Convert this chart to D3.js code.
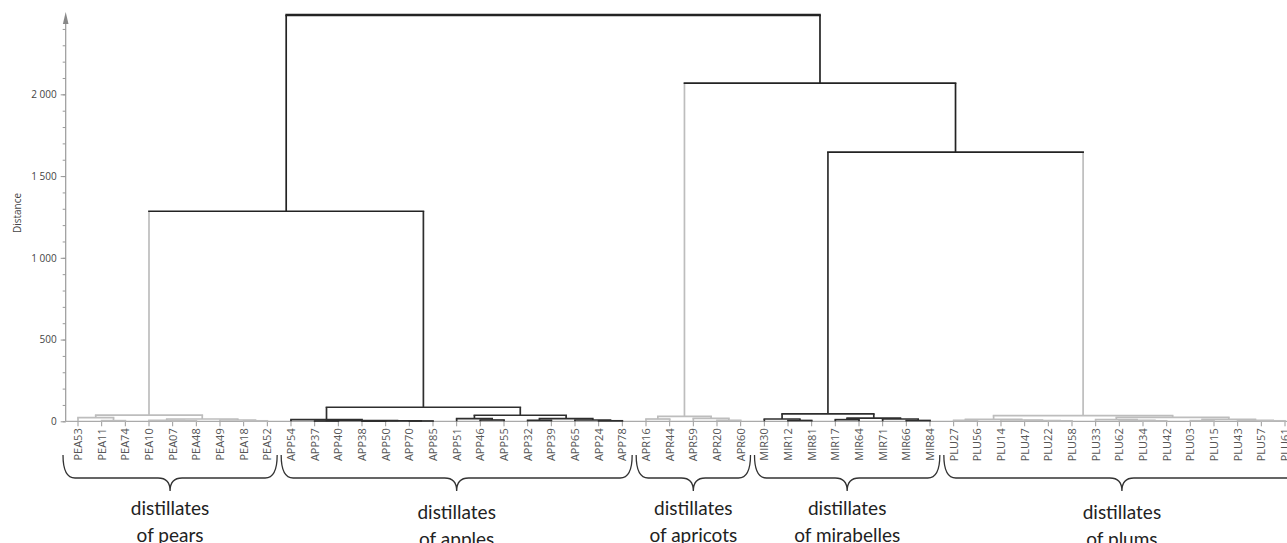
<!DOCTYPE html>
<html lang="en">
<head>
    <meta charset="UTF-8">
    <title>Dendrogram of fruit distillates</title>
    <script src="https://d3js.org/d3.v7.min.js"></script>
    <style>
        body {
            margin: 0;
            background: #fff;
        }
        svg {
            display: block;
        }
        .tick text {
            font-family: "Open Sans", sans-serif;
            font-size: 10px;
            fill: #444;
        }
    </style>
</head>
<body>
    <div id="chart"></div>

    <script>
        // Sub-trees: [left, right, distance] ; strings are leaves
        const pearTree = [["PEA53", ["PEA11", "PEA74", 4], 22],
                          [["PEA10", ["PEA07", "PEA48", 3], 6], ["PEA49", ["PEA18", "PEA52", 3], 8], 14], 38];
        const appleTree = [["APP54", [["APP37", "APP40", 2], [["APP38", "APP50", 1], ["APP70", "APP85", 2], 3], 5], 10],
                           [["APP51", ["APP46", "APP55", 8], 16], [["APP32", "APP39", 6], ["APP65", ["APP24", "APP78", 3], 8], 16], 37], 86];
        const apricotTree = [["APR16", "APR44", 14], ["APR59", ["APR20", "APR60", 6], 18], 30];
        const mirabelleTree = [["MIR30", ["MIR12", "MIR81", 5], 14],
                               [["MIR17", "MIR64", 10], ["MIR71", ["MIR66", "MIR84", 5], 14], 20], 45];
        const plumTree = [[["PLU27", "PLU56", 6], ["PLU14", ["PLU47", ["PLU22", "PLU58", 3], 5], 8], 12],
                          [["PLU33", ["PLU62", ["PLU34", "PLU42", 3], 6], 10], [["PLU03", "PLU15", 4], ["PLU43", ["PLU57", "PLU61", 3], 6], 12], 24], 35];

        // upper merges
        const fullTree = [[pearTree, appleTree, 1285], [apricotTree, [mirabelleTree, plumTree, 1646], 2068], 2485];

        const groupTrees = [pearTree, appleTree, apricotTree, mirabelleTree, plumTree];
        const groupLines1 = ["distillates", "distillates", "distillates", "distillates", "distillates"];
        const groupLines2 = ["of pears", "of apples", "of apricots", "of mirabelles", "of plums"];
        const groupColors = ["#bdbdbd", "#2e2e2e", "#bdbdbd", "#2e2e2e", "#bdbdbd"];

        const yTicks = [0, 500, 1000, 1500, 2000];
        const yMinorTicks = d3.range(0, 2500, 100);

        const width = 1287, height = 543;
        const baseY = 421.3;

        const svg = d3.select("#chart").append("svg")
            .attr("width", width)
            .attr("height", height);

        const root = d3.hierarchy(fullTree, d => Array.isArray(d) ? [d[0], d[1]] : null);
        const leaves = root.leaves();
        const leafNames = leaves.map(d => d.data);

        const x = d3.scalePoint().domain(leafNames).range([78, 1285]);
        const y = d3.scaleLinear().domain([0, 2500]).range([baseY, 12.6]);

        // positions and colours
        root.eachAfter(d => {
            d.h = d.children ? d.data[2] : 0;
            d.px = d.children ? d3.mean(d.children, c => c.px) : x(d.data);
        });
        root.each(d => { d.color = "#232323"; });
        groupTrees.forEach((t, i) => {
            root.each(d => {
                if (d.data === t) d.each(n => { n.color = groupColors[i]; });
            });
        });

        // axis
        const fmt = d3.formatLocale({ decimal: ".", thousands: "\u00a0", grouping: [3], currency: ["", ""] }).format(",d");
        const axisX = 65.7;

        svg.append("g")
            .attr("transform", `translate(${axisX},0)`)
            .call(d3.axisLeft(y).tickValues(yMinorTicks).tickSize(3).tickFormat(""))
            .call(g => g.select(".domain").remove())
            .call(g => g.selectAll("line").attr("stroke", "#999"));

        svg.append("g")
            .attr("transform", `translate(${axisX},0)`)
            .call(d3.axisLeft(y).tickValues(yTicks).tickSize(5).tickPadding(4).tickFormat(fmt))
            .call(g => g.select(".domain").remove())
            .call(g => g.selectAll("line").attr("stroke", "#999"));

        svg.append("line")
            .attr("x1", axisX).attr("x2", axisX)
            .attr("y1", baseY).attr("y2", 18)
            .attr("stroke", "#999").attr("stroke-width", 1.2);
        svg.append("path")
            .attr("d", `M${axisX},12 L${axisX - 2.8},24 L${axisX + 2.8},24 Z`)
            .attr("fill", "#888");

        svg.append("text")
            .attr("transform", "translate(21,213) rotate(-90)")
            .attr("text-anchor", "middle")
            .attr("font-family", "Open Sans, sans-serif")
            .attr("font-size", 10)
            .attr("fill", "#444")
            .text("Distance");

        // leaf baseline + ticks
        svg.append("line")
            .attr("x1", axisX).attr("x2", width)
            .attr("y1", baseY).attr("y2", baseY)
            .attr("stroke", "#aaa").attr("stroke-width", 1.2);

        svg.append("g")
            .selectAll("line")
            .data(leafNames)
            .join("line")
            .attr("x1", d => x(d)).attr("x2", d => x(d))
            .attr("y1", baseY).attr("y2", baseY + 5)
            .attr("stroke", "#999");

        svg.append("g")
            .selectAll("text")
            .data(leafNames)
            .join("text")
            .attr("transform", d => `translate(${x(d)},${baseY + 7}) rotate(-90)`)
            .attr("dy", "0.36em")
            .attr("text-anchor", "end")
            .attr("font-family", "Open Sans, sans-serif")
            .attr("font-size", 11)
            .attr("fill", "#555")
            .text(d => d);

        // dendrogram
        const links = svg.append("g")
            .attr("fill", "none")
            .attr("stroke-width", 1.7);

        links.selectAll("line.v")
            .data(root.descendants().filter(d => d.parent))
            .join("line")
            .attr("class", "v")
            .attr("x1", d => d.px).attr("x2", d => d.px)
            .attr("y1", d => y(d.h)).attr("y2", d => y(d.parent.h))
            .attr("stroke", d => d.color);

        links.selectAll("line.h")
            .data(root.descendants().filter(d => d.children))
            .join("line")
            .attr("class", "h")
            .attr("x1", d => d.children[0].px - 0.85).attr("x2", d => d.children[1].px + 0.85)
            .attr("y1", d => y(d.h)).attr("y2", d => y(d.h))
            .attr("stroke", d => d.color)
            .attr("stroke-width", d => d === root ? 2.4 : 1.7);

        // braces under each group
        const groups = groupTrees.map((t, i) => {
            const names = d3.hierarchy(t, d => Array.isArray(d) ? [d[0], d[1]] : null).leaves().map(d => d.data);
            const first = leafNames.indexOf(names[0]);
            const last = leafNames.indexOf(names[names.length - 1]);
            const step = x.step();
            const x1 = first === 0 ? x(names[0]) - 15 : x(names[0]) - step / 2 + 2;
            const x2 = last === leafNames.length - 1 ? x(names[names.length - 1]) + 15 : x(names[names.length - 1]) + step / 2 - 2;
            return { x1, x2, mid: (x1 + x2) / 2, i, count: names.length };
        });

        const braceTop = 455, braceMid = 478, braceTip = 491;
        const bracePath = g => {
            const r = 12;
            return `M${g.x1},${braceTop} Q${g.x1},${braceMid} ${g.x1 + r},${braceMid}` +
                ` L${g.mid - r},${braceMid} Q${g.mid},${braceMid} ${g.mid},${braceTip}` +
                ` Q${g.mid},${braceMid} ${g.mid + r},${braceMid}` +
                ` L${g.x2 - r},${braceMid} Q${g.x2},${braceMid} ${g.x2},${braceTop}`;
        };

        svg.append("g")
            .selectAll("path")
            .data(groups)
            .join("path")
            .attr("d", bracePath)
            .attr("fill", "none")
            .attr("stroke", "#333")
            .attr("stroke-width", 1.3);

        const labels = svg.append("g")
            .attr("font-family", "Lato, sans-serif")
            .attr("font-size", 19)
            .attr("fill", "#222")
            .attr("text-anchor", "middle");

        groups.forEach(g => {
            const drop = g.count > 12 ? 4 : 0;
            labels.append("text")
                .attr("x", g.mid).attr("y", 515 + drop)
                .text(groupLines1[g.i]);
            labels.append("text")
                .attr("x", g.mid).attr("y", 542 + drop)
                .text(groupLines2[g.i]);
        });
    </script>
</body>
</html>
